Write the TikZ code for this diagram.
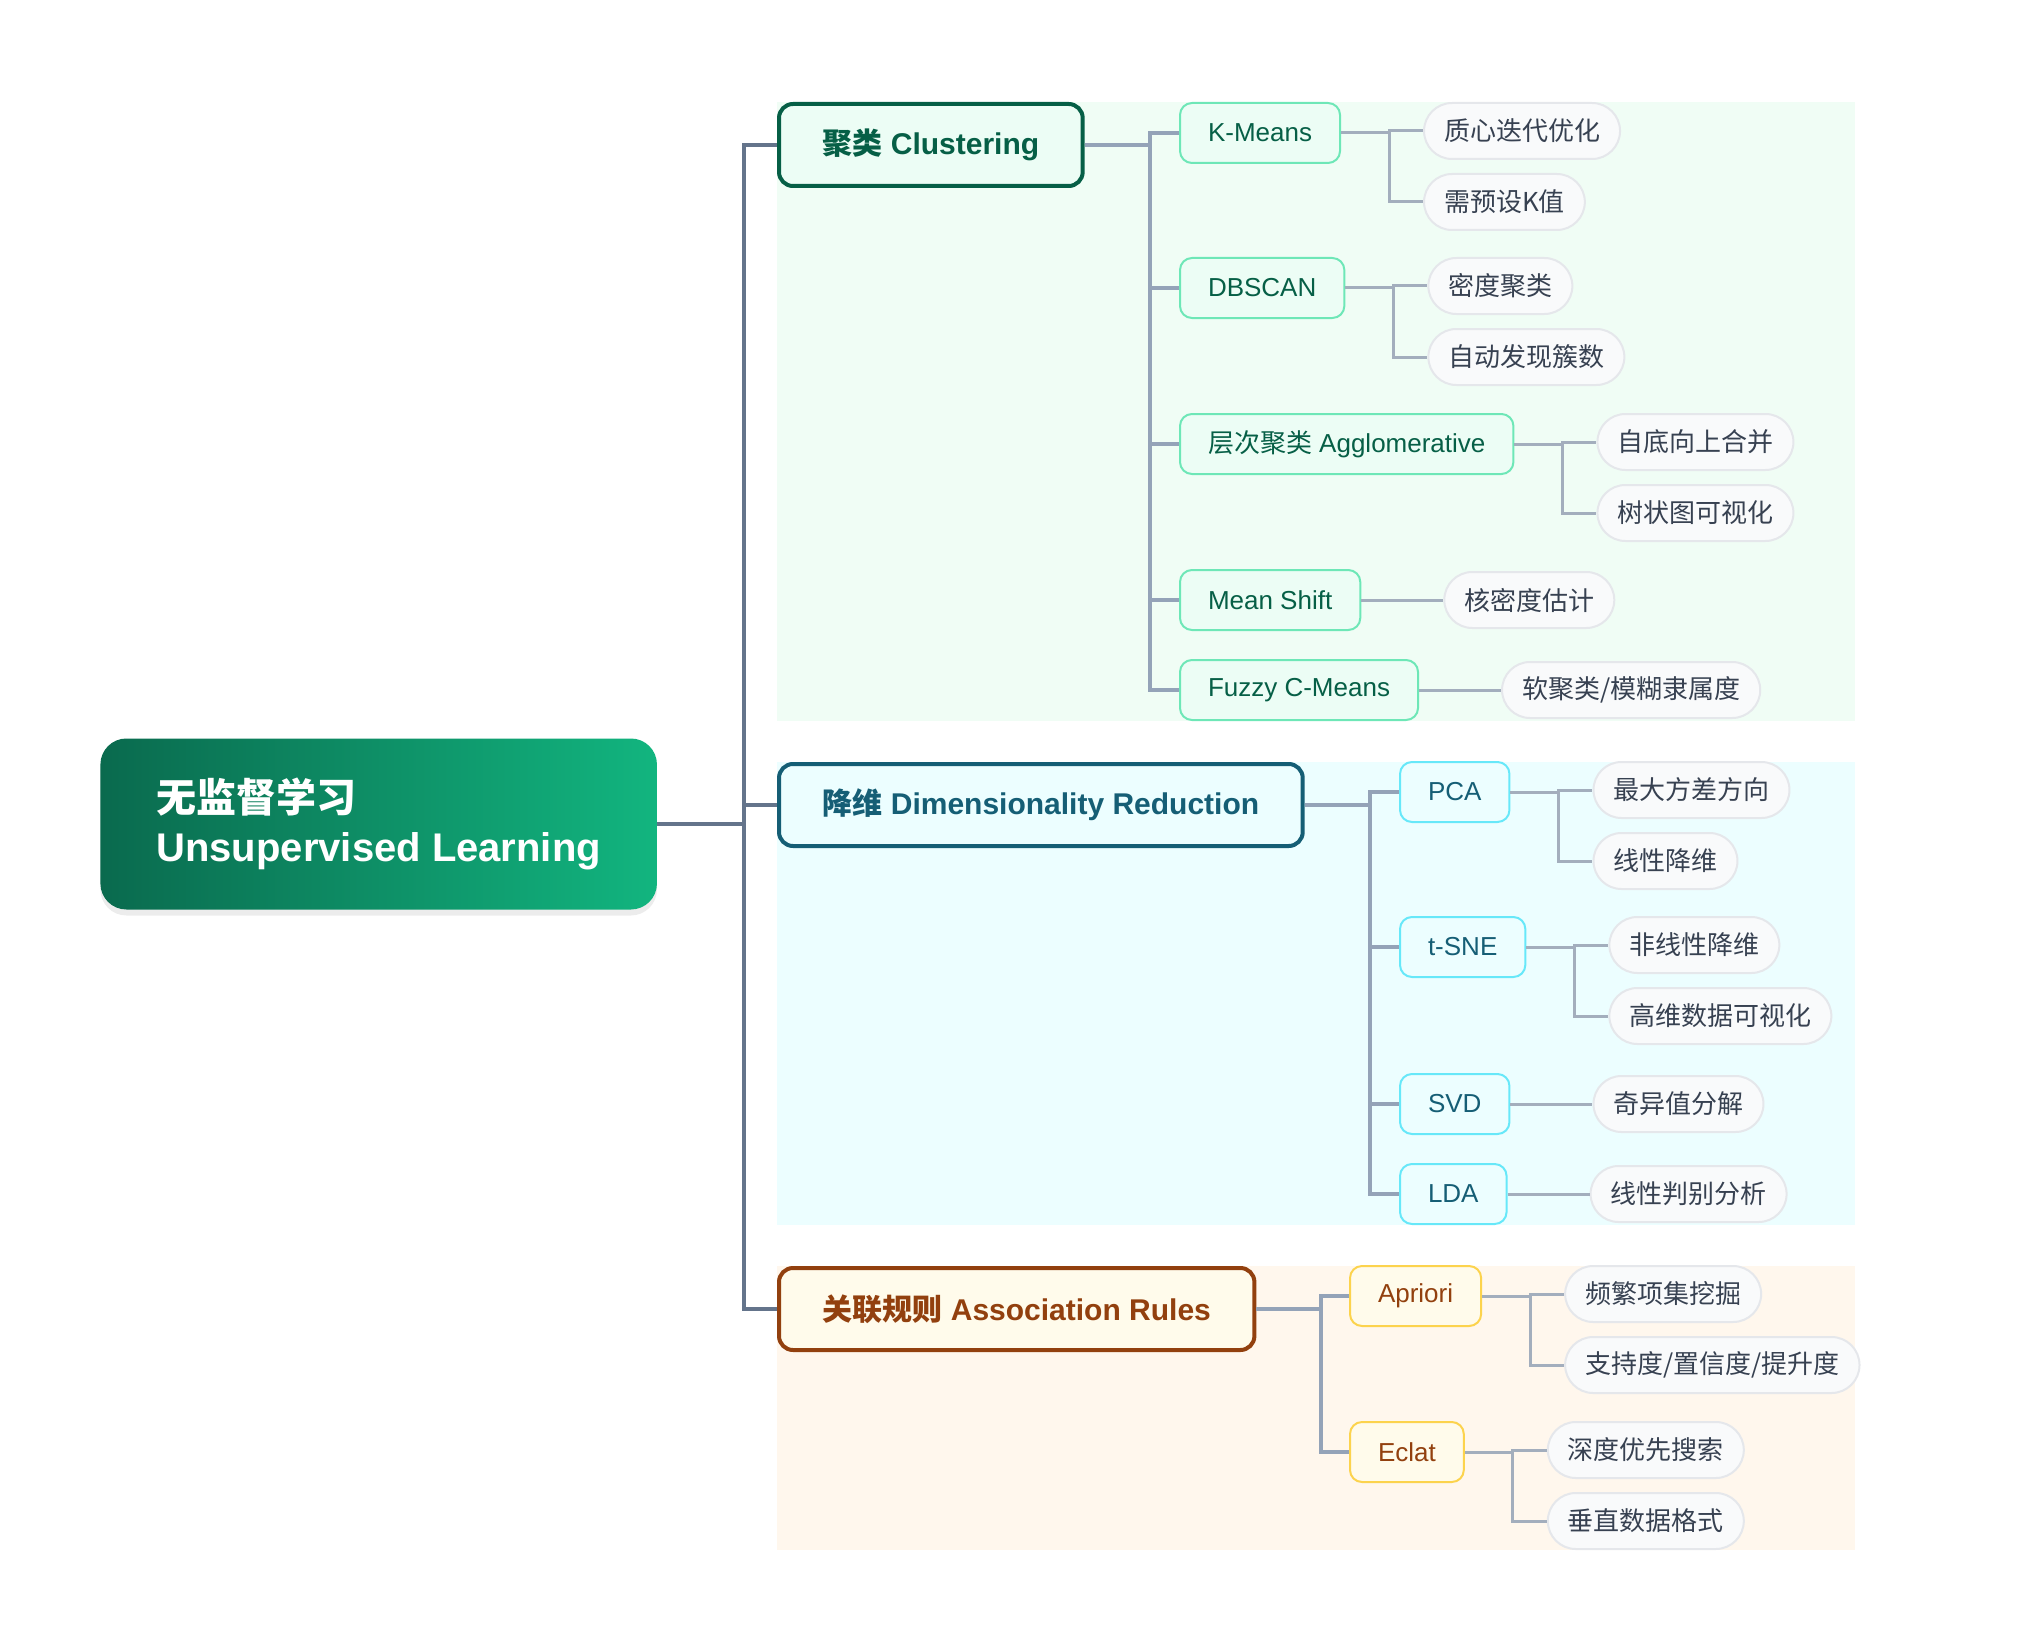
\documentclass[tikz,border=0pt]{standalone}
\usepackage{fontspec}
\setmainfont{Liberation Sans}
\newfontfamily\cjk{Noto Sans CJK SC}
\usetikzlibrary{positioning,shadows,backgrounds}

\definecolor{rootA}{HTML}{0A6A4E}
\definecolor{rootB}{HTML}{12B57F}
\definecolor{cluDark}{HTML}{065F46}
\definecolor{cluLine}{HTML}{6EE7B7}
\definecolor{cluBg}{HTML}{F0FDF5}
\definecolor{cluFill}{HTML}{ECFDF5}
\definecolor{drDark}{HTML}{155E75}
\definecolor{drLine}{HTML}{67E8F9}
\definecolor{drBg}{HTML}{ECFEFF}
\definecolor{drFill}{HTML}{ECFEFF}
\definecolor{arDark}{HTML}{92400E}
\definecolor{arLine}{HTML}{FCD34D}
\definecolor{arBg}{HTML}{FFF7ED}
\definecolor{arFill}{HTML}{FFFBEB}
\definecolor{leafFill}{HTML}{F9FAFB}
\definecolor{leafLine}{HTML}{E5E7EB}
\definecolor{leafText}{HTML}{374151}
\definecolor{trunkC}{HTML}{64748B}
\definecolor{branchC}{HTML}{94A3B8}
\definecolor{twigC}{HTML}{A3AEBD}

\tikzset{
  rootbox/.style={rounded corners=13pt, left color=rootA, right color=rootB,
    text=white, align=left, inner xsep=28pt, minimum height=85.5pt,
    font=\fontsize{20}{24.5}\selectfont\bfseries,
    drop shadow={opacity=0.15, shadow xshift=0pt, shadow yshift=-3pt}},
  catbox/.style={draw=#1Dark, fill=#1Fill, text=#1Dark, line width=2pt,
    rounded corners=7pt, minimum height=41pt, inner xsep=21.75pt,
    font=\fontsize{15}{18}\selectfont\bfseries},
  algbox/.style={draw=#1Line, fill=#1Fill, text=#1Dark, line width=1pt,
    rounded corners=6pt, minimum height=30pt, inner xsep=14pt,
    font=\fontsize{13}{15}\selectfont},
  leafbox/.style={draw=leafLine, fill=leafFill, text=leafText, line width=1pt,
    rounded corners=14pt, minimum height=28pt, inner xsep=10pt,
    font=\fontsize{13}{15}\selectfont\cjk},
  trunk/.style={draw=trunkC, line width=2pt},
  branch/.style={draw=branchC, line width=2pt},
  twig/.style={draw=twigC, line width=1.5pt}
}

\begin{document}
\begin{tikzpicture}[x=0.5pt, y=-0.5pt]
\useasboundingbox (0,0) rectangle (2018,1648);
\coordinate (re) at (1855,0);

\node[rootbox, anchor=west] (root) at (100,824)
  {{\cjk 无监督学习}\\Unsupervised Learning};

% categories
\node[catbox=clu, anchor=north west] (clu) at (777,102) {{\cjk 聚类} Clustering};
\node[catbox=dr, anchor=north west] (dr) at (777,762) {{\cjk 降维} Dimensionality Reduction};
\node[catbox=ar, anchor=north west] (ar) at (777,1266) {{\cjk 关联规则} Association Rules};

% clustering
\node[algbox=clu, anchor=north west] (km) at (1179,102) {K-Means};
\node[algbox=clu, anchor=north west] (db) at (1179,257) {DBSCAN};
\node[algbox=clu, anchor=north west] (ag) at (1179,413) {{\cjk 层次聚类} Agglomerative};
\node[algbox=clu, anchor=north west] (ms) at (1179,569) {Mean Shift};
\node[algbox=clu, anchor=north west] (fz) at (1179,659) {Fuzzy C-Means};

\node[leafbox, right=41pt of km.north east, anchor=north west] (km1) {质心迭代优化};
\node[leafbox, below=6.5pt of km1.south west, anchor=north west] (km2) {需预设K值};
\node[leafbox, right=41pt of db.north east, anchor=north west] (db1) {密度聚类};
\node[leafbox, below=6.5pt of db1.south west, anchor=north west] (db2) {自动发现簇数};
\node[leafbox, right=41pt of ag.north east, anchor=north west] (ag1) {自底向上合并};
\node[leafbox, below=6.5pt of ag1.south west, anchor=north west] (ag2) {树状图可视化};
\node[leafbox, right=41pt of ms] (ms1) {核密度估计};
\node[leafbox, right=41pt of fz] (fz1) {软聚类/模糊隶属度};

% dimensionality reduction
\node[algbox=dr, anchor=north west] (pca) at (1399,761) {PCA};
\node[algbox=dr, anchor=north west] (tsne) at (1399,916) {t-SNE};
\node[algbox=dr, anchor=north west] (svd) at (1399,1073) {SVD};
\node[algbox=dr, anchor=north west] (lda) at (1399,1163) {LDA};

\node[leafbox, right=41pt of pca.north east, anchor=north west] (pca1) {最大方差方向};
\node[leafbox, below=6.5pt of pca1.south west, anchor=north west] (pca2) {线性降维};
\node[leafbox, right=41pt of tsne.north east, anchor=north west] (tsne1) {非线性降维};
\node[leafbox, below=6.5pt of tsne1.south west, anchor=north west] (tsne2) {高维数据可视化};
\node[leafbox, right=41pt of svd] (svd1) {奇异值分解};
\node[leafbox, right=41pt of lda] (lda1) {线性判别分析};

% association rules
\node[algbox=ar, anchor=north west] (apr) at (1349,1265) {Apriori};
\node[algbox=ar, anchor=north west] (ecl) at (1349,1421) {Eclat};

\node[leafbox, right=41pt of apr.north east, anchor=north west] (apr1) {频繁项集挖掘};
\node[leafbox, below=6.5pt of apr1.south west, anchor=north west] (apr2) {支持度/置信度/提升度};
\node[leafbox, right=41pt of ecl.north east, anchor=north west] (ecl1) {深度优先搜索};
\node[leafbox, below=6.5pt of ecl1.south west, anchor=north west] (ecl2) {垂直数据格式};

% panels
\begin{scope}[on background layer]
\fill[cluBg] (clu.north west) rectangle (fz.south -| re);
\fill[drBg] (dr.north west) rectangle (lda.south -| re);
\fill[arBg] (ar.north west) rectangle (ecl2.south -| re);
\end{scope}

% connectors
\foreach \n in {clu,dr,ar}
  \draw[trunk] (root.east) -- ++(43.5pt,0) |- (\n.west);
\foreach \n in {km,db,ag,ms,fz}
  \draw[branch] (clu.east) -- ++(32.5pt,0) |- (\n.west);
\foreach \n in {pca,tsne,svd,lda}
  \draw[branch] (dr.east) -- ++(32.5pt,0) |- (\n.west);
\foreach \n in {apr,ecl}
  \draw[branch] (ar.east) -- ++(32.5pt,0) |- (\n.west);

\foreach \p in {km,db,ag,pca,tsne,apr,ecl} {
  \draw[twig] (\p.east) -- ++(24pt,0) |- (\p1.west);
  \draw[twig] (\p.east) -- ++(24pt,0) |- (\p2.west);
}
\foreach \p in {ms,fz,svd,lda}
  \draw[twig] (\p.east) -- (\p1.west);
\end{tikzpicture}
\end{document}
